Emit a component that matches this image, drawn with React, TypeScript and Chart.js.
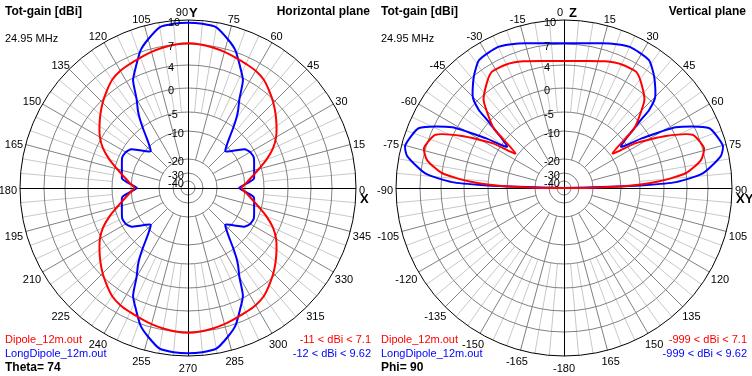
import React, { useEffect, useRef } from 'react';
import { Chart, registerables, RadialLinearScale } from 'chart.js';

Chart.register(...registerables);

// ------------------------------------------------------------------ data
const RING_TICKS = [-40, -30, -20, -10, -5, 0, 4, 7, 10];
const SERIES_NAMES = ['Dipole_12m.out', 'LongDipole_12m.out'];
const FREQ_TEXT = '24.95 MHz';
const AXIS_TITLE = 'Tot-gain [dBi]';

// Horizontal plane (Theta = 74): azimuth phi in the first quadrant, pattern mirrored about X and Y
const H_DIPOLE_PHI = [0, 5, 10, 15, 20, 25, 30, 35, 40, 45, 50, 55, 60, 65, 70, 75, 80, 85, 90];
const H_DIPOLE_DBI = [-11.2, -9.6, -7.9, -5.7, -3.4, -1.3, 0.3, 1.4, 2.5, 3.6, 4.5, 5.3, 5.75, 6.0, 6.25, 6.55, 6.8, 7.0, 7.1];
const H_LONG_PHI = [0, 3, 5, 8, 12, 16, 21.5, 25, 29.5, 32, 34.5, 38, 41, 44.5, 48, 51, 53, 55, 57, 60, 63, 67, 71, 75, 80, 85, 90];
const H_LONG_DBI = [-12.1, -10.4, -9.1, -7.5, -7.2, -6.9, -6.3, -5.9, -6.05, -6.4, -7.0, -8.9, -10.3, -11.7, -9.7, -7.4, -5.3, -3.4, -1.7, 0.5, 3.65, 5.4, 7.2, 8.25, 9.4, 9.6, 9.66];

// Vertical plane (Phi = 90): theta from zenith on the right half, mirrored to the left half
const V_DIPOLE_THETA = [0, 10, 18, 25, 32, 36.5, 42.5, 47.5, 50, 54.5, 58, 63, 67.5, 74, 78.5, 83, 86, 88, 89.5, 90];
const V_DIPOLE_DBI = [4.57, 4.86, 5.45, 5.9, 5.95, 5.0, 3.3, 0.05, -2.0, -9.3, -3.2, 2.5, 6.3, 7.2, 6.4, 4.0, -0.9, -7.8, -20, -999];
const V_LONG_THETA = [0, 10, 17.5, 25, 33.5, 39, 45, 47.5, 48.5, 54, 57.5, 61.5, 67.5, 75, 78.5, 84, 87, 88, 88.5, 90];
const V_LONG_DBI = [7.09, 7.36, 7.95, 8.46, 8.2, 6.9, 4.86, 2.7, 0.47, -6.5, -1.5, 4.63, 8.6, 9.55, 9.0, 6.36, 2.12, -4.4, -14.3, -999];

const H_RANGES = ['-11 < dBi < 7.1', '-12 < dBi < 9.62'];
const V_RANGES = ['-999 < dBi < 7.1', '-999 < dBi < 9.62'];

// ------------------------------------------------------------------ scale
const STEPS_PER_DEG = 2;
const N_IDX = 360 * STEPS_PER_DEG;
const RING_FRACTION = [7, 15, 29, 57, 76, 100, 123, 144, 168].map((v) => v / 168);

function dbToFraction(db: number): number {
  if (db <= -50) return 0;
  if (db <= RING_TICKS[0]) return (RING_FRACTION[0] * (db + 50)) / 10;
  for (let i = 1; i < RING_TICKS.length; i++) {
    if (db <= RING_TICKS[i]) {
      const t = (db - RING_TICKS[i - 1]) / (RING_TICKS[i] - RING_TICKS[i - 1]);
      return RING_FRACTION[i - 1] + t * (RING_FRACTION[i] - RING_FRACTION[i - 1]);
    }
  }
  const n = RING_TICKS.length - 1;
  const slope = (RING_FRACTION[n] - RING_FRACTION[n - 1]) / (RING_TICKS[n] - RING_TICKS[n - 1]);
  return RING_FRACTION[n] + (db - RING_TICKS[n]) * slope;
}

class ArrlRadialScale extends RadialLinearScale {
  static id = 'arrlRadial';
  getDistanceFromCenterForValue(value: any) {
    if (value === null || value === undefined || Number.isNaN(value)) return NaN;
    return (this as any).drawingArea * dbToFraction(value);
  }
}
Chart.register(ArrlRadialScale as any);

// index c (clockwise from top) helpers
function hIndex(phi: number) {
  const c = (((90 - phi) % 360) + 360) % 360;
  return Math.round(c * STEPS_PER_DEG) % N_IDX;
}
function vIndex(theta: number) {
  const c = ((theta % 360) + 360) % 360;
  return Math.round(c * STEPS_PER_DEG) % N_IDX;
}
function buildH(phis: number[], vals: number[]) {
  const arr: (number | null)[] = new Array(N_IDX).fill(null);
  phis.forEach((p, k) => {
    [p, 180 - p, 180 + p, 360 - p].forEach((a) => (arr[hIndex(a)] = vals[k]));
  });
  return arr;
}
function buildV(thetas: number[], vals: number[]) {
  const arr: (number | null)[] = new Array(N_IDX).fill(null);
  thetas.forEach((t, k) => {
    [t, -t].forEach((a) => (arr[vIndex(a)] = vals[k]));
  });
  return arr;
}

const H_LABELS = Array.from({ length: N_IDX }, (_, i) => ((((90 - i / STEPS_PER_DEG) % 360) + 360) % 360));
const V_LABELS = Array.from({ length: N_IDX }, (_, i) => {
  const c = i / STEPS_PER_DEG;
  return c < 180 ? c : c - 360;
});

// ------------------------------------------------------------------ styles
const RED = '#ff0000';
const BLUE = '#0000ff';
const GRID_DARK = '#808080';
const GRID_LIGHT = '#c8c8c8';
const FONT = '"Liberation Sans", Arial, sans-serif';

type PanelCfg = {
  labels: number[];
  red: (number | null)[];
  blue: (number | null)[];
  redTension: number;
  blueTension: number;
  topLetter: string;
  sideLetter: string;
  topNumDx: number;
  topLetterDx: number;
  plane: string;
  ranges: string[];
  footer: string;
};

const H_PANEL: PanelCfg = {
  labels: H_LABELS,
  red: buildH(H_DIPOLE_PHI, H_DIPOLE_DBI),
  blue: buildH(H_LONG_PHI, H_LONG_DBI),
  redTension: 0.35,
  blueTension: 0.2,
  topLetter: 'Y',
  sideLetter: 'X',
  topNumDx: 0,
  topLetterDx: 1,
  plane: 'Horizontal plane',
  ranges: H_RANGES,
  footer: 'Theta= 74',
};
const V_PANEL: PanelCfg = {
  labels: V_LABELS,
  red: buildV(V_DIPOLE_THETA, V_DIPOLE_DBI),
  blue: buildV(V_LONG_THETA, V_LONG_DBI),
  redTension: 0.2,
  blueTension: 0.2,
  topLetter: 'Z',
  sideLetter: 'XY',
  topNumDx: -1,
  topLetterDx: 5,
  plane: 'Vertical plane',
  ranges: V_RANGES,
  footer: 'Phi= 90',
};

function makeDecor(cfg: PanelCfg) {
  return {
    id: 'polarDecor',
    beforeDraw(chart: any) {
      const s = chart.scales.r;
      const ctx = chart.ctx as CanvasRenderingContext2D;
      ctx.save();
      ctx.lineWidth = 1;
      for (let deg = 0; deg < 360; deg += 5) {
        if (deg % 90 === 0) continue;
        const idx = deg * STEPS_PER_DEG;
        const major = deg % 15 === 0;
        const p0 = s.getPointPositionForValue(idx, major ? -20 : -5);
        const p1 = s.getPointPositionForValue(idx, 10);
        ctx.strokeStyle = major ? GRID_DARK : GRID_LIGHT;
        ctx.beginPath();
        ctx.moveTo(p0.x, p0.y);
        ctx.lineTo(p1.x, p1.y);
        ctx.stroke();
      }
      ctx.restore();
    },
    beforeDatasetsDraw(chart: any) {
      const s = chart.scales.r;
      const ctx = chart.ctx as CanvasRenderingContext2D;
      const top = s.getPointPositionForValue(0, 10);
      const bottom = s.getPointPositionForValue(180 * STEPS_PER_DEG, 10);
      const right = s.getPointPositionForValue(90 * STEPS_PER_DEG, 10);
      const left = s.getPointPositionForValue(270 * STEPS_PER_DEG, 10);
      const x = Math.round(s.xCenter) + 0.5;
      const y = Math.round(s.yCenter) + 0.5;
      ctx.save();
      ctx.strokeStyle = '#000000';
      ctx.lineWidth = 1;
      ctx.beginPath();
      ctx.moveTo(x, top.y);
      ctx.lineTo(x, bottom.y);
      ctx.moveTo(left.x, y);
      ctx.lineTo(right.x, y);
      ctx.stroke();
      ctx.restore();
    },
    afterDraw(chart: any) {
      const s = chart.scales.r;
      const ctx = chart.ctx as CanvasRenderingContext2D;
      const W = chart.width;
      ctx.save();
      ctx.fillStyle = '#000000';
      ctx.textBaseline = 'middle';
      // ring labels
      ctx.font = `11px ${FONT}`;
      ctx.textAlign = 'left';
      RING_TICKS.forEach((v) => {
        const r = s.getDistanceFromCenterForValue(v);
        ctx.fillText(String(v), s.xCenter - 20, s.yCenter - r + 3);
      });
      // angle labels
      for (let deg = 0; deg < 360; deg += 15) {
        const idx = deg * STEPS_PER_DEG;
        const text = String(cfg.labels[idx]);
        const p = s.getPointPosition(idx, s.drawingArea);
        ctx.font = `11px ${FONT}`;
        if (deg === 0) {
          ctx.textAlign = 'right';
          ctx.fillText(text, s.xCenter + cfg.topNumDx, p.y - 7);
          ctx.font = `bold 13px ${FONT}`;
          ctx.textAlign = 'left';
          ctx.fillText(cfg.topLetter, s.xCenter + cfg.topLetterDx, p.y - 7);
          continue;
        }
        const w = ctx.measureText(text).width;
        const cx = p.x + Math.cos(p.angle) * (w / 2 + 3);
        const cy = p.y + Math.sin(p.angle) * 9.5 + 3;
        ctx.textAlign = 'center';
        ctx.fillText(text, cx, cy);
        if (deg === 90) {
          ctx.font = `bold 13px ${FONT}`;
          ctx.textAlign = 'left';
          ctx.fillText(cfg.sideLetter, p.x + 4, p.y + 11);
        }
      }
      // corner texts
      ctx.font = `bold 12px ${FONT}`;
      ctx.textAlign = 'left';
      ctx.fillText(AXIS_TITLE, 5, 12);
      ctx.textAlign = 'right';
      ctx.fillText(cfg.plane, W - 6, 12);
      ctx.font = `11px ${FONT}`;
      ctx.textAlign = 'left';
      ctx.fillText(FREQ_TEXT, 5, 39);
      ctx.fillStyle = RED;
      ctx.fillText(SERIES_NAMES[0], 5, 340);
      ctx.fillStyle = BLUE;
      ctx.fillText(SERIES_NAMES[1], 5, 354);
      ctx.textAlign = 'right';
      ctx.fillStyle = RED;
      ctx.fillText(cfg.ranges[0], W - 5, 340);
      ctx.fillStyle = BLUE;
      ctx.fillText(cfg.ranges[1], W - 5, 354);
      ctx.fillStyle = '#000000';
      ctx.textAlign = 'left';
      ctx.font = `bold 12px ${FONT}`;
      ctx.fillText(cfg.footer, 5, 368);
      ctx.restore();
    },
  };
}

function PolarPanel({ cfg }: { cfg: PanelCfg }) {
  const ref = useRef<HTMLCanvasElement | null>(null);
  useEffect(() => {
    if (!ref.current) return;
    const chart = new Chart(ref.current, {
      type: 'radar',
      data: {
        labels: cfg.labels,
        datasets: [
          { label: SERIES_NAMES[0], data: cfg.red as any, borderColor: RED, borderWidth: 2, fill: false, spanGaps: true, pointRadius: 0, tension: cfg.redTension },
          { label: SERIES_NAMES[1], data: cfg.blue as any, borderColor: BLUE, borderWidth: 2, fill: false, spanGaps: true, pointRadius: 0, tension: cfg.blueTension },
        ],
      },
      options: {
        responsive: false,
        maintainAspectRatio: false,
        animation: false,
        devicePixelRatio: 1,
        events: [],
        layout: { padding: 20 },
        plugins: { legend: { display: false }, tooltip: { enabled: false }, title: { display: false } },
        elements: {
          point: { radius: 0, hitRadius: 0 },
          line: { borderWidth: 2, borderJoinStyle: 'round', fill: false },
        },
        scales: {
          r: {
            type: 'arrlRadial',
            min: -50,
            max: 10,
            startAngle: 0,
            afterBuildTicks: (scale: any) => {
              scale.ticks = RING_TICKS.map((v) => ({ value: v }));
            },
            ticks: { display: false },
            pointLabels: { display: false },
            angleLines: { display: false },
            grid: {
              circular: true,
              lineWidth: 1,
              color: (c: any) => (c.tick && c.tick.value === 10 ? '#000000' : GRID_DARK),
            },
          } as any,
        },
      } as any,
      plugins: [makeDecor(cfg)],
    });
    return () => chart.destroy();
  }, [cfg]);
  return <canvas ref={ref} width={376} height={376} style={{ display: 'block', width: 376, height: 376 }} />;
}

export default function App() {
  return (
    <div style={{ position: 'absolute', left: 0, top: 0, width: 752, height: 376, display: 'flex', background: '#ffffff' }}>
      <PolarPanel cfg={H_PANEL} />
      <PolarPanel cfg={V_PANEL} />
    </div>
  );
}
